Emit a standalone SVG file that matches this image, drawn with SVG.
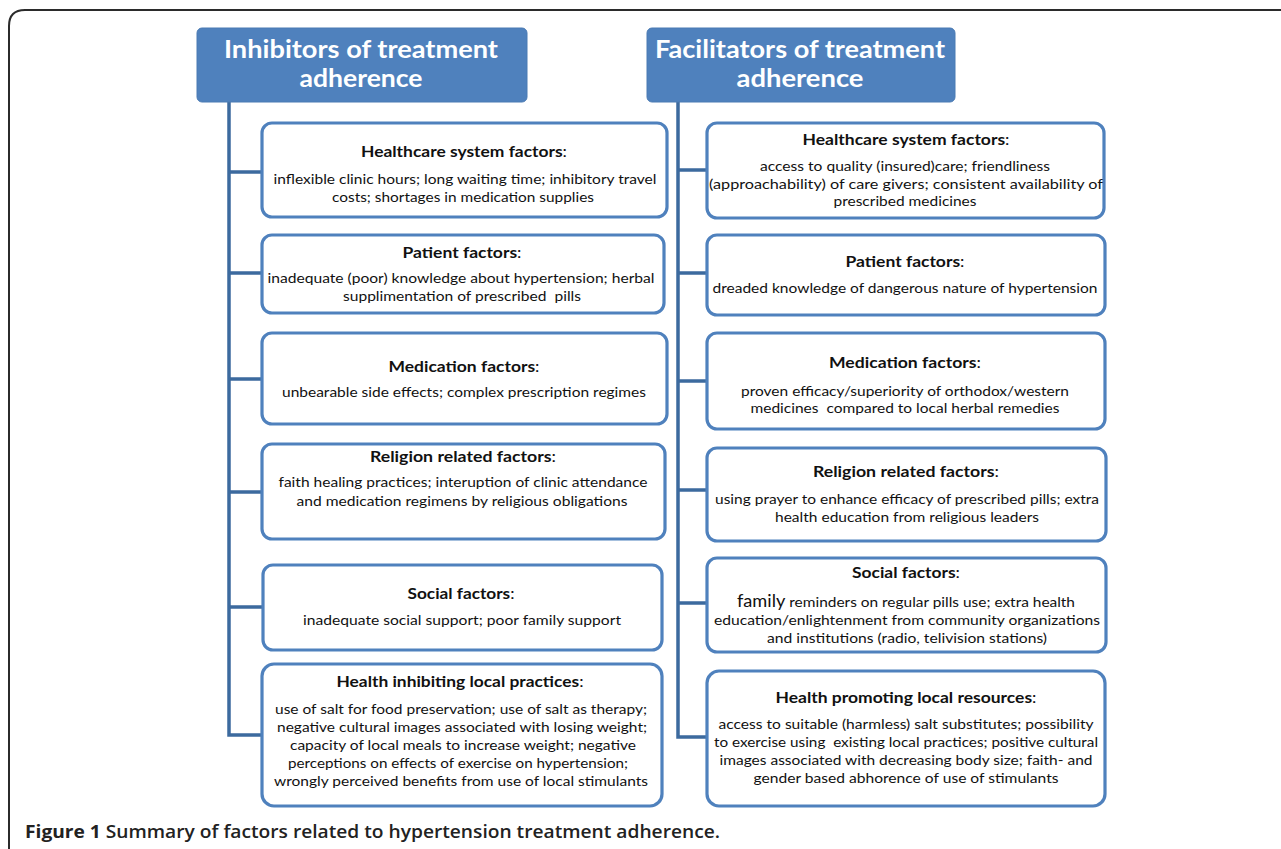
<svg xmlns="http://www.w3.org/2000/svg" width="1281" height="849" viewBox="0 0 1281 849">
<style>
.hdr{fill:#4f81bd;stroke:#4a7ab3;stroke-width:1}
.ht{font-family:Lato,"Liberation Sans",sans-serif;font-weight:700;font-size:25px;fill:#fff;text-anchor:middle}
.box{fill:#fff;stroke:#4f81bd;stroke-width:3.2}
.tt{font-family:Lato,"Liberation Sans",sans-serif;font-weight:700;font-size:15.5px;fill:#111;text-anchor:middle}
.tt .c{font-weight:400}
.bt{font-family:Lato,"Liberation Sans",sans-serif;font-weight:400;font-size:14px;fill:#111;text-anchor:middle}
.conn{fill:none;stroke:#3c6a9e;stroke-width:3.5}
.cap{font-family:"Open Sans","Liberation Sans",sans-serif;font-size:18px;fill:#222;font-weight:700}
</style>
<rect x="0" y="0" width="1281" height="849" fill="#fff"/>
<path d="M9 849 V26 Q9 10 25 10 H1281" fill="none" stroke="#2b2b2b" stroke-width="2"/>

<g id="connectors">
<path class="conn" d="M229 101 V735 H262 M229 172 H262 M229 273 H262 M229 379 H262 M229 492 H262 M229 607 H263"/>
<path class="conn" d="M678 101 V737 H707 M678 170 H707 M678 273 H707 M678 381 H707 M678 490 H707 M678 603 H707"/>
</g>

<g id="inhibitors-header">
<rect class="hdr" x="197" y="28" width="330" height="74" rx="5"/>
<text class="ht" x="361" y="58" textLength="274" lengthAdjust="spacingAndGlyphs">Inhibitors of treatment</text>
<text class="ht" x="361" y="87" textLength="123" lengthAdjust="spacingAndGlyphs">adherence</text>
</g>
<g id="facilitators-header">
<rect class="hdr" x="647" y="28" width="308" height="74" rx="5"/>
<text class="ht" x="800" y="58" textLength="290" lengthAdjust="spacingAndGlyphs">Facilitators of treatment</text>
<text class="ht" x="800" y="87" textLength="127" lengthAdjust="spacingAndGlyphs">adherence</text>
</g>

<g id="inh-healthcare">
<rect class="box" x="262" y="123" width="405" height="94" rx="10"/>
<text class="tt" x="464" y="157" textLength="206" lengthAdjust="spacingAndGlyphs">Healthcare system factors<tspan class="c">:</tspan></text>
<text class="bt" x="465" y="184" textLength="383" lengthAdjust="spacingAndGlyphs">inflexible clinic hours; long waiting time; inhibitory travel</text>
<text class="bt" x="463" y="202" textLength="262" lengthAdjust="spacingAndGlyphs">costs; shortages in medication supplies</text>
</g>
<g id="inh-patient">
<rect class="box" x="262" y="235" width="402" height="78" rx="10"/>
<text class="tt" x="462" y="258" textLength="119" lengthAdjust="spacingAndGlyphs">Patient factors<tspan class="c">:</tspan></text>
<text class="bt" x="461" y="283" textLength="387" lengthAdjust="spacingAndGlyphs">inadequate (poor) knowledge about hypertension; herbal</text>
<text class="bt" x="462" y="301" textLength="238" lengthAdjust="spacingAndGlyphs">supplimentation of prescribed&#160; pills</text>
</g>
<g id="inh-medication">
<rect class="box" x="262" y="333" width="405" height="91" rx="10"/>
<text class="tt" x="464" y="372" textLength="151" lengthAdjust="spacingAndGlyphs">Medication factors<tspan class="c">:</tspan></text>
<text class="bt" x="464" y="397" textLength="364" lengthAdjust="spacingAndGlyphs">unbearable side effects; complex prescription regimes</text>
</g>
<g id="inh-religion">
<rect class="box" x="262" y="444" width="403" height="95" rx="10"/>
<text class="tt" x="463" y="462" textLength="186" lengthAdjust="spacingAndGlyphs">Religion related factors<tspan class="c">:</tspan></text>
<text class="bt" x="463" y="487" textLength="369" lengthAdjust="spacingAndGlyphs">faith healing practices; interuption of clinic attendance</text>
<text class="bt" x="462" y="506" textLength="331" lengthAdjust="spacingAndGlyphs">and medication regimens by religious obligations</text>
</g>
<g id="inh-social">
<rect class="box" x="263" y="565" width="399" height="85" rx="10"/>
<text class="tt" x="461" y="599" textLength="107" lengthAdjust="spacingAndGlyphs">Social factors<tspan class="c">:</tspan></text>
<text class="bt" x="462" y="625" textLength="318" lengthAdjust="spacingAndGlyphs">inadequate social support; poor family support</text>
</g>
<g id="inh-local">
<rect class="box" x="262" y="664" width="400" height="142" rx="12"/>
<text class="tt" x="460" y="687" textLength="247" lengthAdjust="spacingAndGlyphs">Health inhibiting local practices<tspan class="c">:</tspan></text>
<text class="bt" x="461" y="714" textLength="372" lengthAdjust="spacingAndGlyphs">use of salt for food preservation; use of salt as therapy;</text>
<text class="bt" x="462" y="732" textLength="370" lengthAdjust="spacingAndGlyphs">negative cultural images associated with losing weight;</text>
<text class="bt" x="463" y="750" textLength="346" lengthAdjust="spacingAndGlyphs">capacity of local meals to increase weight; negative</text>
<text class="bt" x="458" y="768" textLength="340" lengthAdjust="spacingAndGlyphs">perceptions on effects of exercise on hypertension;</text>
<text class="bt" x="461" y="786" textLength="374" lengthAdjust="spacingAndGlyphs">wrongly perceived benefits from use of local stimulants</text>
</g>

<g id="fac-healthcare">
<rect class="box" x="707" y="123" width="397" height="95" rx="10"/>
<text class="tt" x="906" y="145" textLength="207" lengthAdjust="spacingAndGlyphs">Healthcare system factors<tspan class="c">:</tspan></text>
<text class="bt" x="905" y="171" textLength="290" lengthAdjust="spacingAndGlyphs">access to quality (insured)care; friendliness</text>
<text class="bt" x="906" y="189" textLength="394" lengthAdjust="spacingAndGlyphs">(approachability) of care givers; consistent availability of</text>
<text class="bt" x="905" y="206" textLength="143" lengthAdjust="spacingAndGlyphs">prescribed medicines</text>
</g>
<g id="fac-patient">
<rect class="box" x="707" y="235" width="398" height="80" rx="10"/>
<text class="tt" x="905" y="267" textLength="119" lengthAdjust="spacingAndGlyphs">Patient factors<tspan class="c">:</tspan></text>
<text class="bt" x="905" y="293" textLength="385" lengthAdjust="spacingAndGlyphs">dreaded knowledge of dangerous nature of hypertension</text>
</g>
<g id="fac-medication">
<rect class="box" x="707" y="333" width="398" height="96" rx="10"/>
<text class="tt" x="905" y="368" textLength="152" lengthAdjust="spacingAndGlyphs">Medication factors<tspan class="c">:</tspan></text>
<text class="bt" x="905" y="396" textLength="328" lengthAdjust="spacingAndGlyphs">proven efficacy/superiority of orthodox/western</text>
<text class="bt" x="905" y="413" textLength="309" lengthAdjust="spacingAndGlyphs">medicines&#160; compared to local herbal remedies</text>
</g>
<g id="fac-religion">
<rect class="box" x="707" y="448" width="399" height="93" rx="10"/>
<text class="tt" x="906" y="477" textLength="186" lengthAdjust="spacingAndGlyphs">Religion related factors<tspan class="c">:</tspan></text>
<text class="bt" x="907" y="504" textLength="384" lengthAdjust="spacingAndGlyphs">using prayer to enhance efficacy of prescribed pills; extra</text>
<text class="bt" x="907" y="522" textLength="264" lengthAdjust="spacingAndGlyphs">health education from religious leaders</text>
</g>
<g id="fac-social">
<rect class="box" x="707" y="558" width="399" height="94" rx="10"/>
<text class="tt" x="906" y="578" textLength="108" lengthAdjust="spacingAndGlyphs">Social factors<tspan class="c">:</tspan></text>
<text class="bt" x="906" y="607" textLength="338" lengthAdjust="spacingAndGlyphs"><tspan font-size="16.5">family</tspan> reminders on regular pills use; extra health</text>
<text class="bt" x="907" y="625" textLength="386" lengthAdjust="spacingAndGlyphs">education/enlightenment from community organizations</text>
<text class="bt" x="907" y="643" textLength="280" lengthAdjust="spacingAndGlyphs">and institutions (radio, telivision stations)</text>
</g>
<g id="fac-local">
<rect class="box" x="707" y="671" width="398" height="135" rx="12"/>
<text class="tt" x="906" y="703" textLength="261" lengthAdjust="spacingAndGlyphs">Health promoting local resources<tspan class="c">:</tspan></text>
<text class="bt" x="906" y="729" textLength="375" lengthAdjust="spacingAndGlyphs">access to suitable (harmless) salt substitutes; possibility</text>
<text class="bt" x="906" y="747" textLength="384" lengthAdjust="spacingAndGlyphs">to exercise using&#160; existing local practices; positive cultural</text>
<text class="bt" x="906" y="765" textLength="373" lengthAdjust="spacingAndGlyphs">images associated with decreasing body size; faith- and</text>
<text class="bt" x="906" y="783" textLength="305" lengthAdjust="spacingAndGlyphs">gender based abhorence of use of stimulants</text>
</g>

<text class="cap" x="25" y="838" textLength="695" lengthAdjust="spacingAndGlyphs">Figure 1<tspan font-weight="600"> Summary of factors related to hypertension treatment adherence.</tspan></text>
</svg>
